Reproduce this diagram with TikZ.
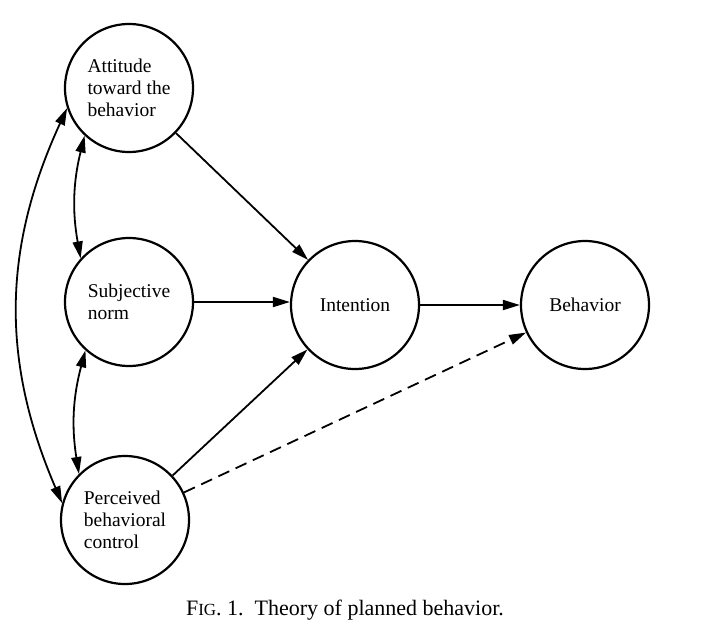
\documentclass[tikz,border=0pt]{standalone}
\usepackage{fontspec}
\usepackage{tikz}
\usetikzlibrary{arrows.meta}
\setmainfont{Liberation Serif}

\begin{document}
\begin{tikzpicture}[x=1pt,y=-1pt,
    construct/.style={shape=circle,draw=black,line width=2.2pt,minimum size=128pt,
                      inner sep=0pt,align=left,font=\fontsize{19.5}{22}\selectfont},
    link/.style={line width=1.8pt,-{Triangle[length=17pt,width=10pt]}},
    both/.style={line width=1.8pt,{Triangle[length=17pt,width=10pt]}-{Triangle[length=17pt,width=10pt]}}]
    \useasboundingbox (0,0) rectangle (701,632);
    \node[construct] (att) at (129,88) {Attitude\\toward the\\behavior};
    \node[construct] (sn) at (129,302) {Subjective\\norm};
    \node[construct] (pbc) at (125,520) {Perceived\\behavioral\\control};
    \node[construct] (int) at (355,305) {Intention};
    \node[construct] (beh) at (585,305) {Behavior};
    \draw [link] (att) -- (int);
    \draw [link] (sn) -- (sn -| int.west);
    \draw [link] (pbc) -- (int);
    \draw [link] (int) -- (beh);
    \draw [link,dashed,dash pattern=on 12pt off 7pt] (pbc) -- (beh);
    \draw [both] (att.227) to[bend right=12] (sn.138);
    \draw [both] (sn.228) to[bend right=12] (pbc.135);
    \draw [both] (att.198) to[bend right=24] (pbc.165);
    \node[font=\fontsize{22}{24}\selectfont] (cap) at (345,610)
        {F{\fontsize{17}{18}\selectfont IG}. 1.\ \ Theory of planned behavior.};
\end{tikzpicture}
\end{document}
